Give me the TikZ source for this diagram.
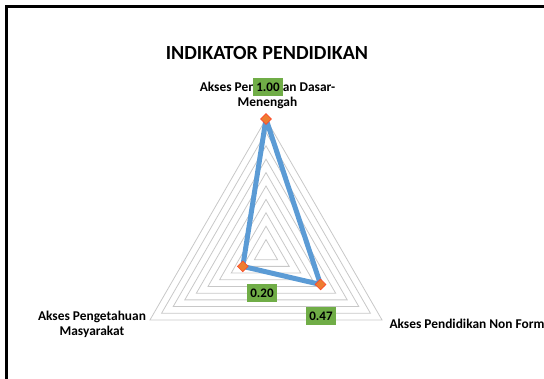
\documentclass[tikz,border=0pt]{standalone}
\usepackage{fontspec}
\setmainfont{Carlito}
\usetikzlibrary{shapes.geometric}
\definecolor{gridgray}{RGB}{200,200,200}
\definecolor{serieblue}{RGB}{91,155,213}
\definecolor{markorange}{RGB}{237,125,49}
\definecolor{markedge}{RGB}{255,70,40}
\definecolor{labelgreen}{RGB}{112,173,71}
\begin{document}
\begin{tikzpicture}[x=1pt,y=1pt,
  ring/.style={draw=gridgray, line width=0.8pt},
  series/.style={draw=serieblue, line width=5pt, line join=round},
  datamark/.style={diamond, fill=markorange, draw=markedge, line width=0.6pt,
    minimum size=11pt, inner sep=0pt},
  vallabel/.style={fill=labelgreen, font=\bfseries\fontsize{13}{15}\selectfont,
    inner sep=0pt, minimum width=30pt, minimum height=18pt},
  catlabel/.style={font=\bfseries\fontsize{13.4}{15}\selectfont, align=center},
  frameline/.style={draw=black, line width=2.2pt},
]
\useasboundingbox (0,0) rectangle (544,379);

% chart frame (top and left edges)
\coordinate (fBL) at (6.5,0);
\coordinate (fTL) at (6.5,372.5);
\coordinate (fTR) at (544,372.5);
\draw[frameline] (fBL) -- (fTL) -- (fTR);

% title
\node[font=\bfseries\fontsize{20}{24}\selectfont] (title) at (267,326) {INDIKATOR PENDIDIKAN};

% radar grid: ten rings in steps of 0.1
\coordinate (C) at (266,126);
\foreach \k in {1,...,10} {
  \pgfmathsetmacro\r{13.4*\k}
  \draw[ring, shift={(C)}] (90:\r pt) -- (210:\r pt) -- (330:\r pt) -- cycle;
}

% category labels
\node[catlabel] (catTop) at (267.5,283.5) {Akses Pendidikan Dasar-\\Menengah};
\node[catlabel] (catLeft) at (92,55) {Akses Pengetahuan\\Masyarakat};
\node[catlabel, anchor=west] (catRight) at (386,55) {Akses Pendidikan Non Formal};

% data series: 1.00, 0.47, 0.20
\path (C) ++(90:134pt) coordinate (dTop);
\path (C) ++(330:62.98pt) coordinate (dRight);
\path (C) ++(210:26.8pt) coordinate (dLeft);
\draw[series] (dTop) -- (dRight) -- (dLeft) -- cycle;
\node[datamark] (pTop) at (dTop) {};
\node[datamark] (pRight) at (dRight) {};
\node[datamark] (pLeft) at (dLeft) {};

% value labels
\node[vallabel] (vTop) at (268,292) {1.00};
\node[vallabel] (vRight) at (321,63) {0.47};
\node[vallabel] (vLeft) at (262,86) {0.20};
\end{tikzpicture}
\end{document}
